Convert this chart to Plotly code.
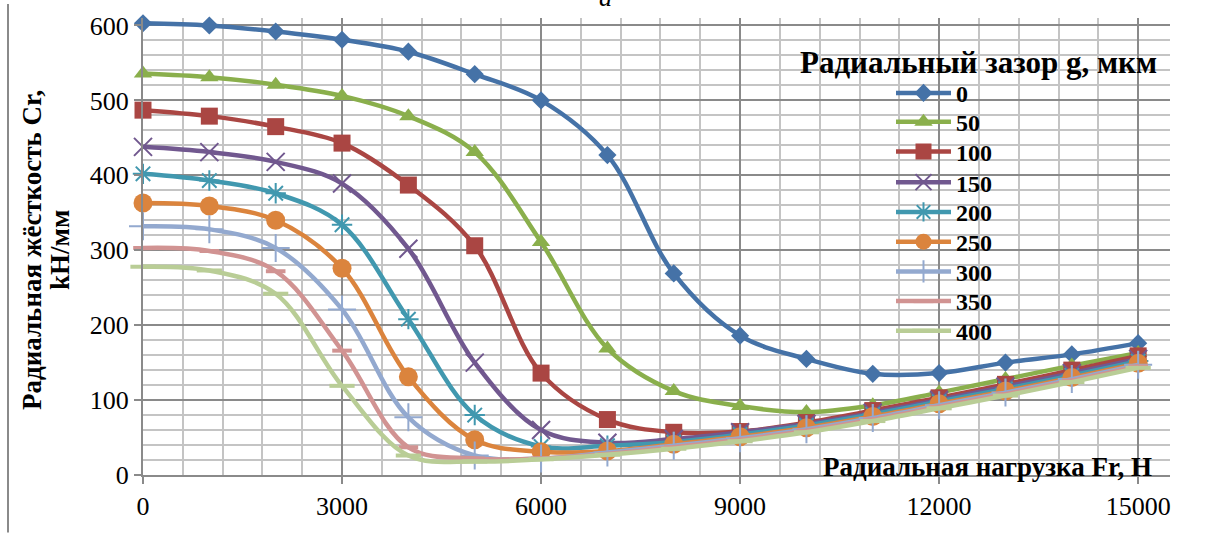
import plotly.graph_objects as go

loads = [0, 1000, 2000, 3000, 4000, 5000, 6000, 7000, 8000, 9000, 10000, 11000, 12000, 13000, 14000, 15000]

g0 = [603, 600, 592, 581, 565, 535, 500, 427, 269, 186, 155, 135, 136, 150, 161, 176]
g50 = [536, 531, 521, 506, 479, 431, 311, 169, 112, 92, 84, 93, 110, 128, 146, 163]
g100 = [487, 479, 465, 443, 387, 306, 136, 74, 57, 58, 70, 86, 103, 121, 140, 159]
g150 = [438, 431, 418, 389, 302, 150, 60, 43, 48, 57, 68, 83, 100, 118, 136, 155]
g200 = [402, 393, 376, 334, 208, 80, 38, 39, 44, 54, 66, 81, 98, 115, 133, 152]
g250 = [363, 359, 340, 276, 131, 47, 31, 32, 41, 51, 63, 78, 95, 112, 130, 149]
g300 = [332, 328, 303, 221, 77, 26, 22, 30, 39, 49, 61, 76, 93, 110, 128, 147]
g350 = [303, 299, 272, 166, 37, 22, 22, 28, 37, 47, 59, 74, 91, 108, 126, 145]
g400 = [278, 273, 242, 119, 26, 18, 21, 27, 35, 45, 57, 72, 89, 106, 124, 143]

series_names = ["0", "50", "100", "150", "200", "250", "300", "350", "400"]
series_values = [g0, g50, g100, g150, g200, g250, g300, g350, g400]
colors = ["#4572A7", "#8AAF4C", "#AA4643", "#71588F", "#4198AF", "#DB843D", "#93A9CF", "#D19392", "#B9CD96"]
symbols = ["diamond", "triangle-up", "square", "x-thin-open", "asterisk-open", "circle",
           "cross-thin-open", "line-ew-open", "line-ew-open"]
sizes = [14, 16, 17, 18, 17, 19, 20, 14, 18]
mline = [0, 0, 0, 2, 2, 0, 2, 4, 4]

y_title_1 = "Радиальная жёсткость Cr,"
y_title_2 = "kH/мм"
x_title = "Радиальная нагрузка Fr, H"
legend_title = "Радиальный зазор g, мкм"

SERIF = "Liberation Serif"

# plot area geometry (pixels)
L, R, T, B = 143, 40, 14, 58
PW = 1210 - L - R
PH = 533 - T - B


def px_x(p):
    return (p - L) / PW


def px_y(p):
    return (533 - B - p) / PH


legend_rows = [90, 119, 149, 180, 210, 240, 270, 300, 330]

fig = go.Figure()
layout_legends = {}
for i, (name, vals, col, sym, sz, ml) in enumerate(zip(series_names, series_values, colors, symbols, sizes, mline)):
    marker = dict(symbol=sym, size=sz, color=col)
    if ml:
        marker["line"] = dict(color=col, width=ml)
    else:
        marker["line"] = dict(width=0)
    lg = "legend" if i == 0 else f"legend{i + 1}"
    fig.add_trace(go.Scatter(
        x=loads, y=vals, name=name, mode="lines+markers",
        line=dict(color=col, width=4.5, shape="spline", smoothing=1),
        marker=marker, cliponaxis=False, legend=lg,
    ))
    layout_legends[lg] = dict(
        x=px_x(891), xanchor="left", y=px_y(legend_rows[i]), yanchor="middle",
        bgcolor="rgba(0,0,0,0)", borderwidth=0,
        font=dict(family=SERIF, size=24, color="black", weight="bold"),
        itemwidth=55,
    )

grid_major = "#8A8A8A"
grid_minor = "#C4C4C4"

fig.update_layout(
    width=1210, height=533,
    margin=dict(l=L, r=R, t=T, b=B),
    plot_bgcolor="white", paper_bgcolor="white",
    font=dict(family=SERIF, color="black", size=26),
    showlegend=True,
    xaxis=dict(
        range=[0, 15480], tick0=0, dtick=3000, tickformat="d",
        showgrid=True, gridcolor=grid_major, gridwidth=1.5,
        minor=dict(dtick=600, tick0=0, showgrid=True, gridcolor=grid_minor, gridwidth=1.5),
        showline=True, linecolor=grid_major, linewidth=2,
        ticks="outside", ticklen=7, tickcolor=grid_major, tickwidth=2,
        tickfont=dict(family=SERIF, size=26, color="black"),
        zeroline=False,
    ),
    yaxis=dict(
        range=[0, 610], tick0=0, dtick=100, tickformat="d",
        showgrid=True, gridcolor=grid_major, gridwidth=1.5,
        minor=dict(dtick=20, tick0=0, showgrid=True, gridcolor=grid_minor, gridwidth=1.5),
        showline=True, linecolor=grid_major, linewidth=2,
        ticks="outside", ticklen=7, tickcolor=grid_major, tickwidth=2,
        tickfont=dict(family=SERIF, size=26, color="black"),
        zeroline=False,
    ),
    **layout_legends,
)

# axis titles and legend title as annotations
fig.add_annotation(text=y_title_1, xref="paper", yref="paper",
                   x=px_x(32), y=px_y(248), xanchor="center", yanchor="middle",
                   showarrow=False, textangle=-90,
                   font=dict(family=SERIF, size=27, color="black", weight="bold"))
fig.add_annotation(text=y_title_2, xref="paper", yref="paper",
                   x=px_x(60), y=px_y(248), xanchor="center", yanchor="middle",
                   showarrow=False, textangle=-90,
                   font=dict(family=SERIF, size=27, color="black", weight="bold"))
fig.add_annotation(text=x_title, xref="paper", yref="paper",
                   x=px_x(987), y=px_y(467), xanchor="center", yanchor="middle",
                   showarrow=False,
                   font=dict(family=SERIF, size=27, color="black", weight="bold"))
fig.add_annotation(text=legend_title, xref="paper", yref="paper",
                   x=px_x(978), y=px_y(59), xanchor="center", yanchor="middle",
                   showarrow=False,
                   font=dict(family=SERIF, size=31, color="black", weight="bold"))
fig.add_annotation(text="а", xref="paper", yref="paper",
                   x=px_x(605), y=px_y(10), xanchor="center", yanchor="bottom",
                   showarrow=False,
                   font=dict(family=SERIF, size=26, color="black", style="italic"))

# chart frame left edge
fig.add_shape(type="line", xref="paper", yref="paper",
              x0=px_x(8), x1=px_x(8), y0=px_y(533), y1=px_y(0),
              line=dict(color=grid_major, width=2))

fig.write_html("out.html")
